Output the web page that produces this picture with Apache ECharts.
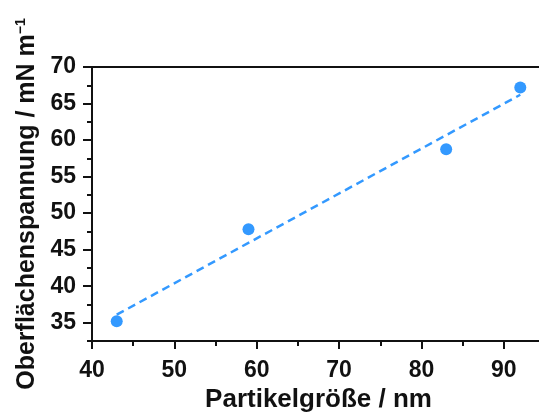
<!DOCTYPE html>
<html>
<head>
<meta charset="utf-8">
<script src="https://cdn.jsdelivr.net/npm/echarts@6/dist/echarts.min.js"></script>
<style>
html,body{margin:0;padding:0;background:#fff;}
#c{width:539px;height:412px;}
</style>
</head>
<body>
<div id="c"></div>
<script>
// Data
const sizeNm = [43, 59, 83, 92];
const tensionMN = [35.2, 47.8, 58.75, 67.2];
const fitX = [43, 92];
const fitY = [36.1, 66.2];
const xMajorTicks = [40, 50, 60, 70, 80, 90];
const xMinorTicks = [45, 55, 65, 75, 85];
const yMajorTicks = [35, 40, 45, 50, 55, 60, 65, 70];
const yMinorTicks = [32.5, 37.5, 42.5, 47.5, 52.5, 57.5, 62.5, 67.5];

const BLUE = '#3399ff';
const INK = '#111';
const FONT = 'Liberation Sans, Arial, sans-serif';

const chart = echarts.init(document.getElementById('c'), null, {renderer: 'canvas'});

const lbl = {fontSize: 23, fontWeight: 'bold', color: INK, fontFamily: FONT};

chart.setOption({
  animation: false,
  backgroundColor: '#fff',
  grid: {left: 92, top: 67, width: 453, height: 274, show: true,
         outerBoundsMode: 'none', containLabel: false,
         borderColor: INK, borderWidth: 2, backgroundColor: 'transparent'},
  xAxis: [
    {
      type: 'value', min: 40, max: 95, position: 'bottom',
      name: 'Partikelgröße / nm', nameLocation: 'middle', nameGap: 44,
      nameTextStyle: {fontSize: 26, fontWeight: 'bold', color: INK, fontFamily: FONT},
      axisLine: {show: true, lineStyle: {color: INK, width: 2}},
      axisTick: {show: true, customValues: xMajorTicks, length: 8, lineStyle: {color: INK, width: 2}},
      axisLabel: Object.assign({customValues: xMajorTicks, margin: 18}, lbl),
      splitLine: {show: false}
    },
    {
      type: 'value', min: 40, max: 95, position: 'bottom',
      axisLine: {show: false},
      axisTick: {show: true, customValues: xMinorTicks, length: 5, lineStyle: {color: INK, width: 2}},
      axisLabel: {show: false},
      splitLine: {show: false}
    }
  ],
  yAxis: [
    {
      type: 'value', min: 32.5, max: 70, position: 'left',
      name: 'Oberflächenspannung / mN m{sup|−1}', nameLocation: 'middle', nameGap: 48,
      nameTextStyle: {fontSize: 25, fontWeight: 'bold', color: INK, fontFamily: FONT,
        rich: {sup: {fontSize: 14, fontWeight: 'bold', color: INK, fontFamily: FONT,
                     verticalAlign: 'top', padding: [0, 0, 12, 0]}}},
      axisLine: {show: true, lineStyle: {color: INK, width: 2}},
      axisTick: {show: true, customValues: yMajorTicks, length: 9, lineStyle: {color: INK, width: 2}},
      axisLabel: Object.assign({customValues: yMajorTicks, margin: 16}, lbl),
      splitLine: {show: false}
    },
    {
      type: 'value', min: 32.5, max: 70, position: 'left',
      axisLine: {show: false},
      axisTick: {show: true, customValues: yMinorTicks, length: 5, lineStyle: {color: INK, width: 2}},
      axisLabel: {show: false},
      splitLine: {show: false}
    }
  ],
  series: [
    {
      type: 'line', xAxisIndex: 0, yAxisIndex: 0,
      data: fitX.map((x, i) => [x, fitY[i]]),
      symbol: 'none',
      lineStyle: {color: BLUE, width: 2.5, type: [8, 5]},
      z: 2
    },
    {
      type: 'scatter', xAxisIndex: 0, yAxisIndex: 0,
      data: sizeNm.map((x, i) => [x, tensionMN[i]]),
      symbolSize: 12,
      itemStyle: {color: BLUE, opacity: 1},
      z: 3
    }
  ]
});
</script>
</body>
</html>
